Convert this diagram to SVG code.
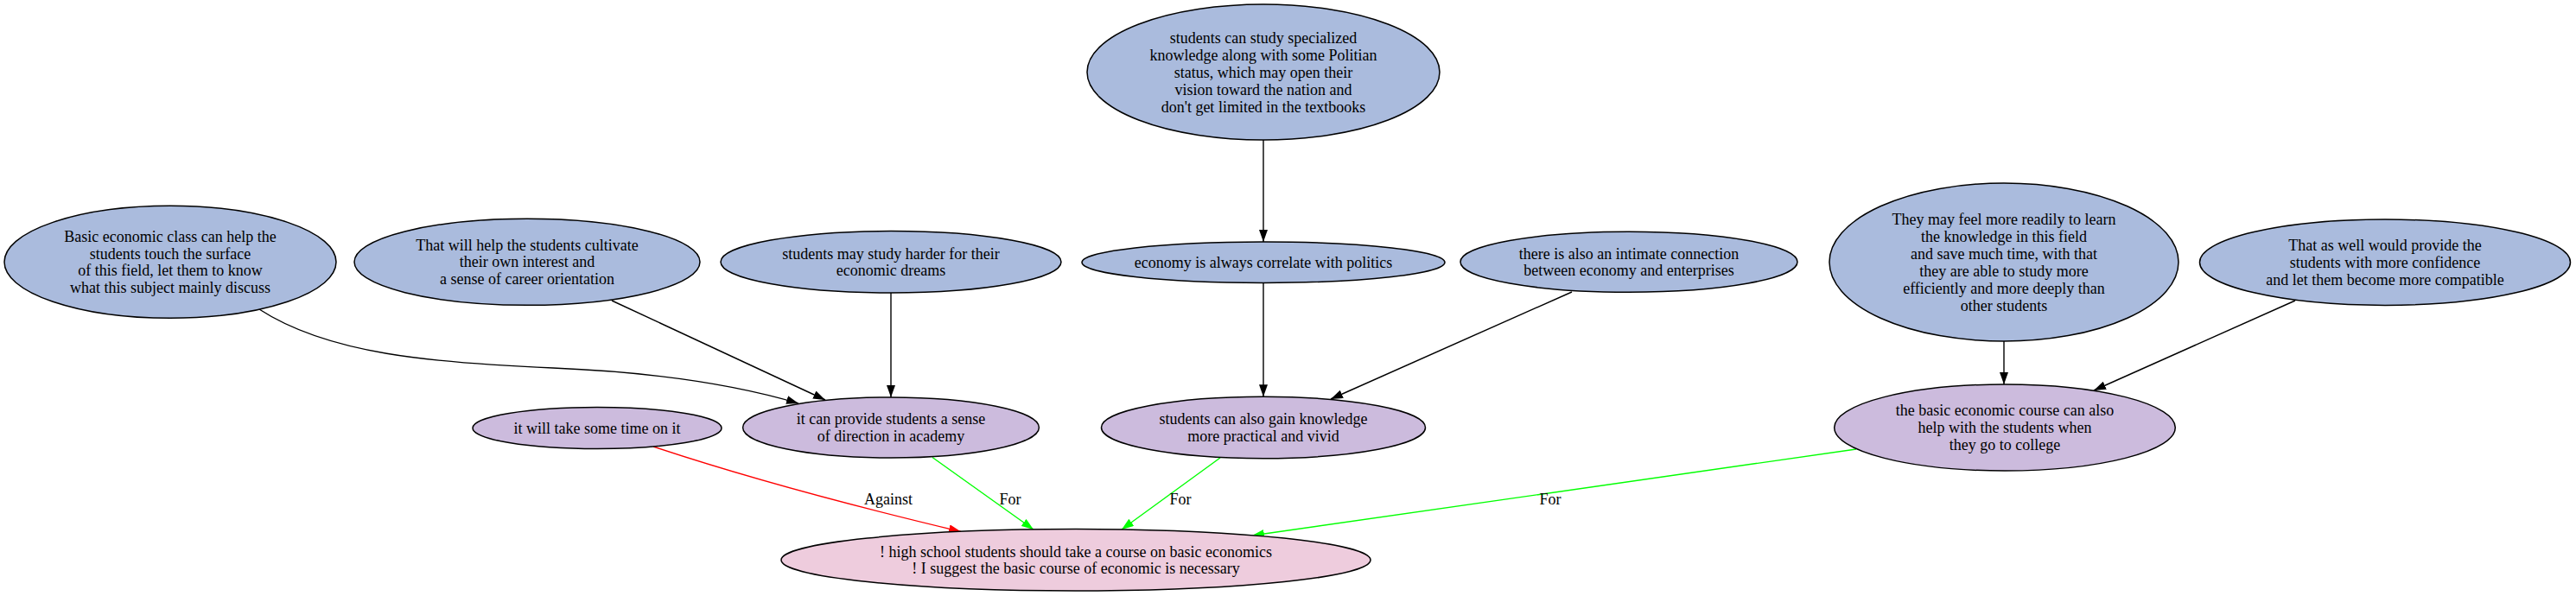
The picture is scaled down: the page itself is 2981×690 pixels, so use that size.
<svg xmlns="http://www.w3.org/2000/svg" width="2981" height="690" viewBox="0 0 2981 690">
<style>
text{font-family:"Liberation Serif","Times New Roman",serif;font-size:18px;fill:#000;text-anchor:middle}
.n ellipse{stroke:#000;stroke-width:1.5}
.b{fill:#aabbdd}.p{fill:#ccbbdd}.r{fill:#eeccdd}
.e path{fill:none;stroke-width:1.4}
.k{stroke:#000}.g{stroke:#00ff00}.d{stroke:#ff0000}
</style>
<defs>
<marker id="ak" markerUnits="userSpaceOnUse" markerWidth="14" markerHeight="10" refX="14" refY="5" orient="auto"><path d="M0,0L14,5L0,10z" fill="#000"/></marker>
<marker id="ag" markerUnits="userSpaceOnUse" markerWidth="14" markerHeight="10" refX="14" refY="5" orient="auto"><path d="M0,0L14,5L0,10z" fill="#00ff00"/></marker>
<marker id="ar" markerUnits="userSpaceOnUse" markerWidth="14" markerHeight="10" refX="14" refY="5" orient="auto"><path d="M0,0L14,5L0,10z" fill="#ff0000"/></marker>
</defs>
<rect width="2981" height="690" fill="#fff"/>
<g id="edges" class="e">
<path class="k" d="M1462,162L1462,280" marker-end="url(#ak)"/>
<path class="k" d="M1462,327.4L1462,459.3" marker-end="url(#ak)"/>
<path class="k" d="M1819,338L1540,462" marker-end="url(#ak)"/>
<path class="k" d="M1031,339L1031,460" marker-end="url(#ak)"/>
<path class="k" d="M708,348L955,463" marker-end="url(#ak)"/>
<path class="k" d="M300,358C380,410 500,420 640,426C760,431 850,445 924,467" marker-end="url(#ak)"/>
<path class="k" d="M2319,395L2319,445" marker-end="url(#ak)"/>
<path class="k" d="M2656,348L2423,452" marker-end="url(#ak)"/>
<path class="d" d="M756,517Q900,565 1112,615.5" marker-end="url(#ar)"/>
<path class="g" d="M1079,529.5L1196,613" marker-end="url(#ag)"/>
<path class="g" d="M1412,530L1298,613" marker-end="url(#ag)"/>
<path class="g" d="M2148,520L1449,620" marker-end="url(#ag)"/>
<text x="1028" y="584">Against</text>
<text x="1169" y="584">For</text>
<text x="1366" y="584">For</text>
<text x="1794" y="584">For</text>
</g>
<g id="nA" class="n"><ellipse class="b" cx="1462" cy="83.5" rx="204" ry="78.5"/>
<text x="1462" y="49.5">students can study specialized</text>
<text x="1462" y="69.5">knowledge along with some Politian</text>
<text x="1462" y="89.5">status, which may open their</text>
<text x="1462" y="109.5">vision toward the nation and</text>
<text x="1462" y="129.5">don't get limited in the textbooks</text></g>
<g id="nB" class="n"><ellipse class="b" cx="1462" cy="303.7" rx="210" ry="23.7"/>
<text x="1462" y="309.5">economy is always correlate with politics</text></g>
<g id="nC" class="n"><ellipse class="b" cx="1031" cy="303.3" rx="197" ry="35.7"/>
<text x="1031" y="299.5">students may study harder for their</text>
<text x="1031" y="319">economic dreams</text></g>
<g id="nD" class="n"><ellipse class="b" cx="197" cy="303.3" rx="192" ry="65"/>
<text x="197" y="280">Basic economic class can help the</text>
<text x="197" y="299.5">students touch the surface</text>
<text x="197" y="319">of this field, let them to know</text>
<text x="197" y="338.5">what this subject mainly discuss</text></g>
<g id="nF" class="n"><ellipse class="b" cx="610" cy="303.3" rx="200" ry="50"/>
<text x="610" y="289.5">That will help the students cultivate</text>
<text x="610" y="309">their own interest and</text>
<text x="610" y="328.5">a sense of career orientation</text></g>
<g id="nG" class="n"><ellipse class="b" cx="1885" cy="303.3" rx="195" ry="35"/>
<text x="1885" y="299.5">there is also an intimate connection</text>
<text x="1885" y="319">between economy and enterprises</text></g>
<g id="nH" class="n"><ellipse class="b" cx="2319" cy="303.5" rx="202" ry="91.5"/>
<text x="2319" y="259.5">They may feel more readily to learn</text>
<text x="2319" y="279.5">the knowledge in this field</text>
<text x="2319" y="299.5">and save much time, with that</text>
<text x="2319" y="319.5">they are able to study more</text>
<text x="2319" y="339.5">efficiently and more deeply than</text>
<text x="2319" y="359.5">other students</text></g>
<g id="nI" class="n"><ellipse class="b" cx="2760" cy="303.7" rx="214.5" ry="49.7"/>
<text x="2760" y="290">That as well would provide the</text>
<text x="2760" y="310">students with more confidence</text>
<text x="2760" y="330">and let them become more compatible</text></g>
<g id="nJ" class="n"><ellipse class="p" cx="691" cy="495.5" rx="144" ry="24"/>
<text x="691" y="501.5">it will take some time on it</text></g>
<g id="nE" class="n"><ellipse class="p" cx="1031" cy="495" rx="171.4" ry="35"/>
<text x="1031" y="491">it can provide students a sense</text>
<text x="1031" y="510.5">of direction in academy</text></g>
<g id="nK" class="n"><ellipse class="p" cx="1462" cy="495" rx="187.5" ry="35.7"/>
<text x="1462" y="491">students can also gain knowledge</text>
<text x="1462" y="510.5">more practical and vivid</text></g>
<g id="nL" class="n"><ellipse class="p" cx="2320" cy="495" rx="197.3" ry="50"/>
<text x="2320" y="481">the basic economic course can also</text>
<text x="2320" y="501">help with the students when</text>
<text x="2320" y="521">they go to college</text></g>
<g id="nM" class="n"><ellipse class="r" cx="1245" cy="648.3" rx="341" ry="35.7"/>
<text x="1245" y="644.5">! high school students should take a course on basic economics</text>
<text x="1245" y="664">! I suggest the basic course of economic is necessary</text></g>
</svg>
